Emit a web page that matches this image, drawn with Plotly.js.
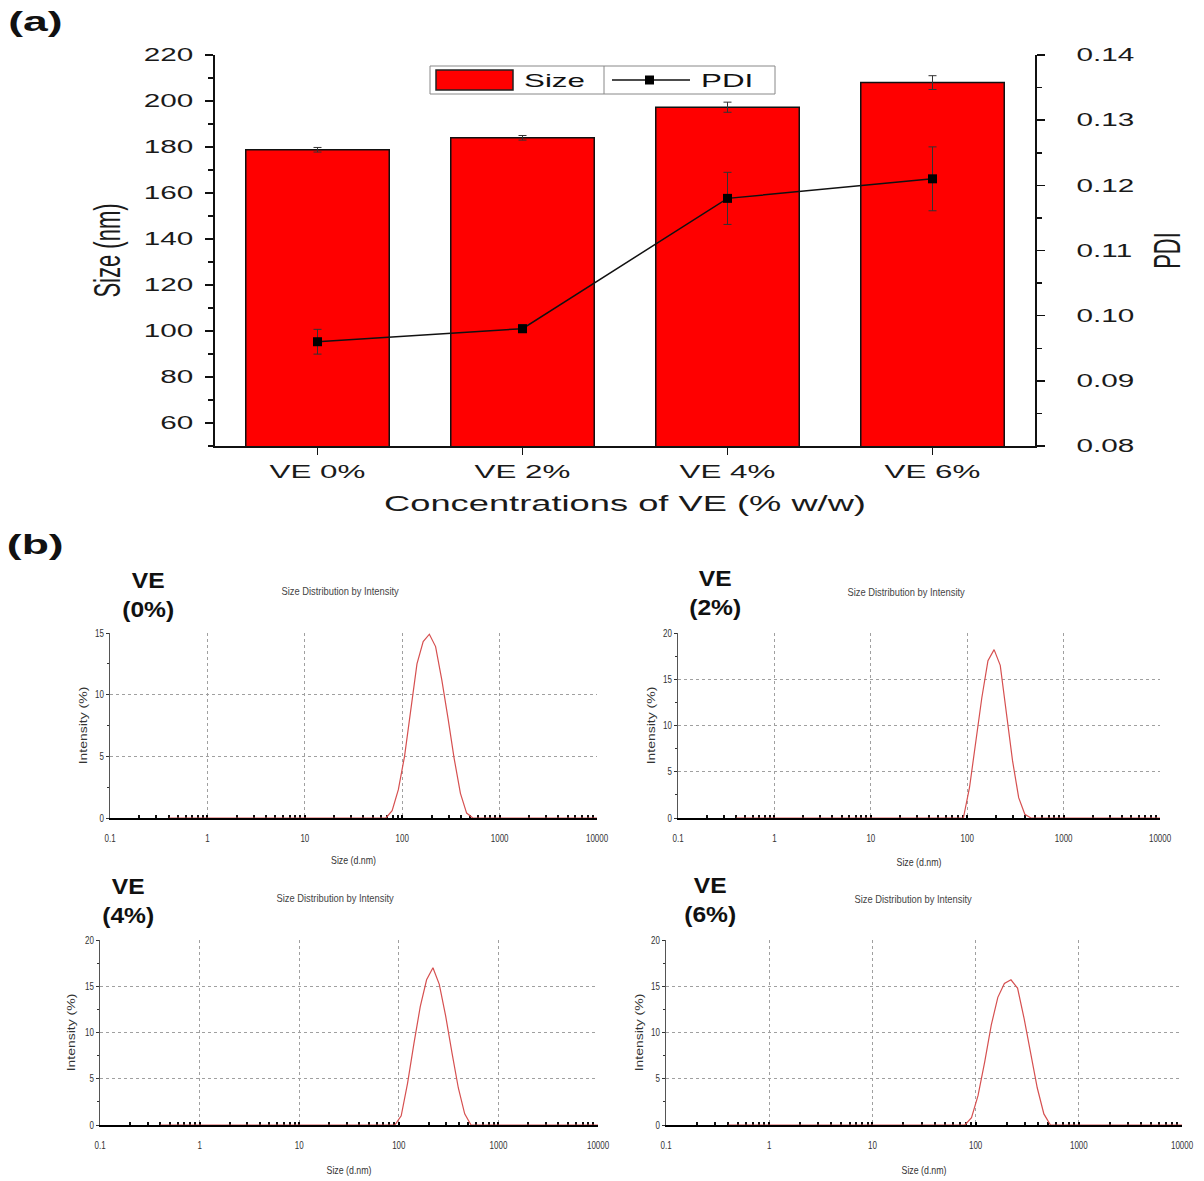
<!DOCTYPE html>
<html><head><meta charset="utf-8">
<script src="https://cdn.plot.ly/plotly-3.0.1.min.js"></script>
<style>html,body{margin:0;padding:0;background:#fff}#chart{width:1204px;height:1181px}</style>
</head><body><div id="chart"></div>
<script>
// ---------- data: panel (a) ----------
const categories = ['VE 0%', 'VE 2%', 'VE 4%', 'VE 6%'];
const sizeMean = [178.8, 184.0, 197.3, 208.0];
const sizeErr  = [1.0, 1.0, 2.2, 3.0];
const pdiMean  = [0.096, 0.098, 0.118, 0.121];
const pdiErr   = [0.0019, 0.0006, 0.0040, 0.0049];

// ---------- data: panel (b), size distribution by intensity ----------
const dlsSize0 = [0.4, 68.06, 78.82, 91.28, 105.7, 122.4, 141.8, 164.2, 190.1, 220.2, 255.0, 295.3, 342.0, 396.1, 458.7, 531.2, 10000];
const dlsInt0  = [0, 0, 0.6, 2.3, 5.0, 8.8, 12.5, 14.3, 14.9, 13.9, 11.2, 8.1, 4.8, 2.0, 0.4, 0, 0];

const dlsSize2 = [0.4, 91.28, 105.7, 122.4, 141.8, 164.2, 190.1, 220.2, 255.0, 295.3, 342.0, 396.1, 458.7, 10000];
const dlsInt2  = [0, 0, 3.3, 8.0, 13.0, 17.0, 18.2, 16.5, 11.5, 6.2, 2.2, 0.4, 0, 0];

const dlsSize4 = [0.4, 91.28, 105.7, 122.4, 141.8, 164.2, 190.1, 220.2, 255.0, 295.3, 342.0, 396.1, 458.7, 531.2, 10000];
const dlsInt4  = [0, 0, 1.0, 4.5, 8.8, 12.8, 15.7, 17.0, 15.2, 11.8, 7.8, 4.0, 1.2, 0, 0];

const dlsSize6 = [0.4, 78.82, 91.28, 105.7, 122.4, 141.8, 164.2, 190.1, 220.2, 255.0, 295.3, 342.0, 396.1, 458.7, 531.2, 10000];
const dlsInt6  = [0, 0, 0.8, 3.2, 6.8, 10.8, 13.8, 15.3, 15.7, 14.8, 11.5, 7.8, 4.0, 1.2, 0, 0];

const panelLabels = ['VE<br>(0%)', 'VE<br>(2%)', 'VE<br>(4%)', 'VE<br>(6%)'];
const panelTitle = 'Size Distribution by Intensity';
const dlsTickVals = [0.1, 1, 10, 100, 1000, 10000];
const dlsTickText = ['0.1', '1', '10', '100', '1000', '10000'];

// ---------- layout helpers ----------
const W = 1204, H = 1181;
const px = v => v / W;
const py = v => 1 - v / H;
const F = 'Liberation Sans, Arial, sans-serif';
const logMinor = [];
for (let d = -1; d < 4; d++) for (let k = 2; k < 10; k++) logMinor.push(k * Math.pow(10, d));

const RED = 'rgb(214,80,80)';
function dlsTrace(x, y, xa, ya) {
  return {type: 'scatter', mode: 'lines', x: x, y: y, xaxis: xa, yaxis: ya,
    line: {color: RED, width: 1.2}, showlegend: false, hoverinfo: 'x+y'};
}

const traces = [
  {type: 'bar', x: categories, y: sizeMean, name: 'Size', width: 0.7, xaxis: 'x', yaxis: 'y',
   marker: {color: '#ff0000', line: {color: '#111', width: 1.5}},
   error_y: {type: 'data', array: sizeErr, visible: true, color: '#333', thickness: 1, width: 4},
   showlegend: false},
  {type: 'scatter', mode: 'lines+markers', x: categories, y: pdiMean, name: 'PDI', xaxis: 'x', yaxis: 'y2',
   line: {color: '#111', width: 1.5}, marker: {symbol: 'square', size: 9, color: '#000'},
   error_y: {type: 'data', array: pdiErr, visible: true, color: '#333', thickness: 1, width: 4},
   showlegend: false},
  dlsTrace(dlsSize0, dlsInt0, 'x2', 'y3'),
  dlsTrace(dlsSize2, dlsInt2, 'x3', 'y4'),
  dlsTrace(dlsSize4, dlsInt4, 'x4', 'y5'),
  dlsTrace(dlsSize6, dlsInt6, 'x5', 'y6')
];

function dlsX(x0, x1, anchor, stand) {
  return {type: 'log', domain: [px(x0), px(x1)], anchor: anchor, range: [-1, 4],
    tickmode: 'array', tickvals: dlsTickVals, ticktext: dlsTickText,
    showline: true, linecolor: '#000', linewidth: 1.5, layer: 'below traces',
    ticks: 'inside', ticklen: 3, tickwidth: 2, tickcolor: '#000',
    minor: {tickmode: 'array', tickvals: logMinor, ticks: 'inside', ticklen: 3, tickwidth: 2, tickcolor: '#111', showgrid: false},
    showgrid: true, gridcolor: '#a0a0a0', griddash: 'dot', gridwidth: 1, zeroline: false,
    tickfont: {size: 10, family: F, color: '#333'}, ticklabelstandoff: 11,
    title: {text: 'Size (d.nm)', font: {size: 11, family: F, color: '#333'}, standoff: stand},
    automargin: false, fixedrange: true};
}
function dlsY(y0, y1, anchor, max, stand) {
  return {domain: [py(y1), py(y0)], anchor: anchor, range: [0, max], dtick: 5, tick0: 0,
    showline: true, linecolor: '#555', linewidth: 1.2, layer: 'below traces',
    ticks: 'outside', ticklen: 3, tickcolor: '#333',
    minor: {dtick: 2.5, ticks: 'outside', ticklen: 2, tickcolor: '#333', showgrid: false},
    showgrid: true, gridcolor: '#a0a0a0', griddash: 'dot', gridwidth: 1, zeroline: false,
    tickfont: {size: 10, family: F, color: '#333'},
    title: {text: 'Intensity (%)', font: {size: 14, family: F, color: '#333'}, standoff: stand},
    automargin: false, fixedrange: true};
}

const annos = [
  {text: '<b>(a)</b>', x: px(35), y: py(22), font: {size: 27, family: F, color: '#111'}},
  {text: '<b>(b)</b>', x: px(35), y: py(545), font: {size: 27, family: F, color: '#111'}},
  {text: '<b>' + panelLabels[0] + '</b>', x: px(148), y: py(595), font: {size: 22, family: F, color: '#111'}},
  {text: '<b>' + panelLabels[1] + '</b>', x: px(715), y: py(593), font: {size: 22, family: F, color: '#111'}},
  {text: '<b>' + panelLabels[2] + '</b>', x: px(128), y: py(901), font: {size: 22, family: F, color: '#111'}},
  {text: '<b>' + panelLabels[3] + '</b>', x: px(710), y: py(900), font: {size: 22, family: F, color: '#111'}},
  {text: panelTitle, x: px(340), y: py(591), font: {size: 11, family: F, color: '#444'}},
  {text: panelTitle, x: px(906), y: py(592), font: {size: 11, family: F, color: '#444'}},
  {text: panelTitle, x: px(335), y: py(898), font: {size: 11, family: F, color: '#444'}},
  {text: panelTitle, x: px(913), y: py(899), font: {size: 11, family: F, color: '#444'}},
  {text: 'Size', x: px(522), y: py(80), xanchor: 'left', font: {size: 19, family: F, color: '#111'}},
  {text: 'PDI', x: px(699), y: py(80), xanchor: 'left', font: {size: 19, family: F, color: '#111'}}
].map(a => Object.assign({xref: 'paper', yref: 'paper', showarrow: false, xanchor: 'center', yanchor: 'middle'}, a));

const shapes = [
  {type: 'rect', x0: px(430), x1: px(775), y0: py(94), y1: py(66), line: {color: '#888', width: 1}, fillcolor: '#fff'},
  {type: 'line', x0: px(604), x1: px(604), y0: py(94), y1: py(66), line: {color: '#888', width: 1}},
  {type: 'rect', x0: px(436), x1: px(513), y0: py(90), y1: py(70), line: {color: '#222', width: 1.5}, fillcolor: '#ff0000'},
  {type: 'line', x0: px(612), x1: px(690), y0: py(80), y1: py(80), line: {color: '#111', width: 1.5}},
  {type: 'rect', x0: px(645), x1: px(654), y0: py(84.5), y1: py(75.5), line: {color: '#000', width: 0}, fillcolor: '#000'}
].map(s => Object.assign({xref: 'paper', yref: 'paper', layer: 'above'}, s));

const layout = {
  width: W, height: H, autosize: false,
  margin: {l: 0, r: 0, t: 0, b: 0},
  paper_bgcolor: '#fff', plot_bgcolor: 'rgba(0,0,0,0)',
  font: {family: F, color: '#1a1a1a'},
  showlegend: false,
  bargap: 0.3,
  xaxis: {domain: [px(215), px(1035)], anchor: 'y', type: 'category', range: [-0.5, 3.5],
    showline: true, linecolor: '#111', linewidth: 2, ticks: 'outside', ticklen: 7, tickwidth: 1.5, tickcolor: '#111',
    tickfont: {size: 19, family: F, color: '#1a1a1a'}, showgrid: false, zeroline: false,
    title: {text: 'Concentrations of VE (% w/w)', font: {size: 22, family: F, color: '#1a1a1a'}, standoff: 15},
    automargin: false, fixedrange: true},
  yaxis: {domain: [py(446), py(55)], anchor: 'x', range: [50, 220], dtick: 20, tick0: 0,
    showline: true, linecolor: '#111', linewidth: 2, ticks: 'outside', ticklen: 8, tickwidth: 1.5, tickcolor: '#111',
    minor: {dtick: 10, ticks: 'outside', ticklen: 5, tickwidth: 1.5, tickcolor: '#111', showgrid: false},
    tickfont: {size: 18, family: F, color: '#1a1a1a'}, ticklabelstandoff: 8, showgrid: false, zeroline: false,
    title: {text: 'Size (nm)', font: {size: 22, family: F, color: '#1a1a1a'}, standoff: 42},
    automargin: false, fixedrange: true},
  yaxis2: {overlaying: 'y', side: 'right', anchor: 'x', range: [0.08, 0.14], dtick: 0.01, tick0: 0, tickformat: '.2f',
    showline: true, linecolor: '#111', linewidth: 2, ticks: 'outside', ticklen: 8, tickwidth: 1.5, tickcolor: '#111',
    minor: {dtick: 0.005, ticks: 'outside', ticklen: 5, tickwidth: 1.5, tickcolor: '#111', showgrid: false},
    tickfont: {size: 18, family: F, color: '#1a1a1a'}, ticklabelstandoff: 28, showgrid: false, zeroline: false,
    title: {text: 'PDI', font: {size: 22, family: F, color: '#1a1a1a'}, standoff: 49},
    automargin: false, fixedrange: true},
  xaxis2: dlsX(110, 597, 'y3', 13),
  yaxis3: dlsY(633, 818, 'x2', 15, 0),
  xaxis3: dlsX(678, 1160, 'y4', 15),
  yaxis4: dlsY(633, 818, 'x3', 20, 0),
  xaxis4: dlsX(100, 598, 'y5', 16),
  yaxis5: dlsY(940, 1125, 'x4', 20, 2),
  xaxis5: dlsX(666, 1182, 'y6', 16),
  yaxis6: dlsY(940, 1125, 'x5', 20, 0),
  annotations: annos,
  shapes: shapes
};

// horizontal stretch of text, to mimic the aspect of the original figure's lettering
function stretch(el, s, origin) {
  const r = el.getBoundingClientRect();
  if (!r.width) return;
  const a = origin || el.getAttribute('text-anchor') || 'start';
  const ax = (a === 'middle' || a === 'center') ? (r.left + r.right) / 2 : (a === 'end' || a === 'right') ? r.right : r.left;
  const m = el.parentNode.getScreenCTM();
  const x = (ax - m.e) / m.a;
  const t = el.getAttribute('transform') || '';
  el.setAttribute('transform', 'translate(' + x.toFixed(2) + ',0) scale(' + s + ',1) translate(' + (-x).toFixed(2) + ',0) ' + t);
}
function stretchAll(sel, s, origin) {
  document.querySelectorAll(sel).forEach(el => stretch(el, s, origin));
}
function annoText(i) { return '.annotation[data-index="' + i + '"] text.annotation-text'; }

Plotly.newPlot('chart', traces, layout, {staticPlot: true}).then(() => {
  const TOP = 1.65, BOT = 0.8;
  stretchAll('.xtick text, .ytick text, .y2tick text', TOP);
  stretchAll('.g-xtitle text, .g-ytitle text, .g-y2title text', TOP);
  stretchAll(annoText(0) + ',' + annoText(1), TOP, 'middle');
  stretchAll(annoText(10) + ',' + annoText(11), TOP, 'start');
  stretchAll('.x2tick text, .x3tick text, .x4tick text, .x5tick text, .y3tick text, .y4tick text, .y5tick text, .y6tick text', BOT);
  stretchAll('.g-x2title text, .g-x3title text, .g-x4title text, .g-x5title text, .g-y3title text, .g-y4title text, .g-y5title text, .g-y6title text', BOT);
  for (let i = 6; i <= 9; i++) stretchAll(annoText(i), 0.85, 'middle');
  for (let i = 2; i <= 5; i++) stretchAll(annoText(i), 1.12, 'middle');
});
</script>
</body></html>
